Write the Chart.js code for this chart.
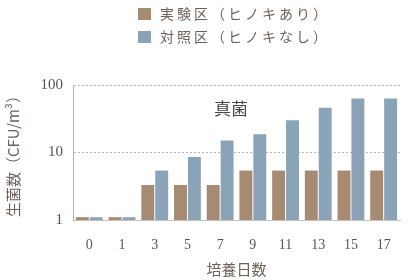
<!DOCTYPE html>
<html>
<head>
<meta charset="utf-8">
<script src="https://cdn.jsdelivr.net/npm/chart.js@4"></script>
<style>
	html, body { margin: 0; padding: 0; background: #fff; }
	#wrap { width: 420px; height: 280px; }
</style>
</head>
<body>
<div id="wrap"><canvas id="chart" width="420" height="280"></canvas></div>
<script>
const days = ["0", "1", "3", "5", "7", "9", "11", "13", "15", "17"]
const withHinoki = [1.1, 1.1, 3.3, 3.3, 3.3, 5.4, 5.4, 5.4, 5.4, 5.4]
const control = [1.1, 1.1, 5.4, 8.6, 15, 18.6, 30, 46, 63, 63]
const yTicks = [1, 10, 100]

const seriesNames = ["実験区（ヒノキあり）", "対照区（ヒノキなし）"]
const brown = "#a68a72"
const blue = "#8ba3b7"
const serif = "'Liberation Serif', 'DejaVu Serif', serif"
const cjk = "'Noto Sans CJK JP', sans-serif"

// legend stacked in two rows above the plot
const stackedLegend = {
	id: "stackedLegend",
	afterDraw(chart) {
		const ctx = chart.ctx
		ctx.save()
		ctx.font = "14px " + cjk
		ctx.letterSpacing = "3px"
		ctx.textBaseline = "middle"
		chart.data.datasets.forEach((ds, i) => {
			const y = 14 + i * 23
			ctx.fillStyle = ds.backgroundColor
			ctx.fillRect(138, y - 6, 13, 12)
			ctx.fillStyle = "#6e625a"
			ctx.fillText(ds.label, 160, y)
		})
		ctx.restore()
	},
}

// panel name inside the plot
const panelName = {
	id: "panelName",
	afterDraw(chart) {
		const { ctx, chartArea } = chart
		ctx.save()
		ctx.font = "17px " + cjk
		ctx.fillStyle = "#4a4440"
		ctx.textAlign = "center"
		ctx.textBaseline = "middle"
		ctx.fillText("真菌", chartArea.left + 158, chartArea.top + 24)
		ctx.restore()
	},
}

new Chart(document.getElementById("chart"), {
	type: "bar",
	data: {
		labels: days,
		datasets: [
			{ label: seriesNames[0], data: withHinoki, backgroundColor: brown },
			{ label: seriesNames[1], data: control, backgroundColor: blue },
		],
	},
	options: {
		responsive: false,
		animation: false,
		categoryPercentage: 0.85,
		barPercentage: 0.93,
		layout: { padding: { top: 85, right: 20, left: 0, bottom: 0 } },
		plugins: {
			legend: { display: false },
			tooltip: { enabled: false },
		},
		scales: {
			x: {
				grid: { display: false, drawTicks: false },
				border: { color: "#c4c4c4", width: 1 },
				ticks: { font: { family: serif, size: 14 }, color: "#555", padding: 17 },
				title: {
					display: true,
					text: "培養日数",
					font: { family: cjk, size: 15 },
					color: "#6e625a",
					padding: { top: 0, bottom: 2 },
				},
				afterFit: (s) => { s.height = 60 },
			},
			y: {
				type: "logarithmic",
				min: 1,
				max: 100,
				afterBuildTicks: (s) => { s.ticks = yTicks.map((v) => ({ value: v })) },
				grid: {
					drawTicks: false,
					color: (c) => (c.tick && c.tick.value === 1 ? "rgba(0,0,0,0)" : "#b8b8b8"),
				},
				border: { color: "#b0b0b0", width: 1, dash: [2, 2] },
				ticks: {
					font: { family: serif, size: 15 },
					color: "#555",
					padding: 10,
					callback: (v) => String(v),
				},
				title: {
					display: true,
					text: "生菌数（CFU/m³）",
					font: { family: cjk, size: 15 },
					color: "#6e625a",
					padding: { top: 4, bottom: 0 },
				},
				afterFit: (s) => { s.width = 73 },
			},
		},
	},
	plugins: [stackedLegend, panelName],
})
</script>
</body>
</html>
